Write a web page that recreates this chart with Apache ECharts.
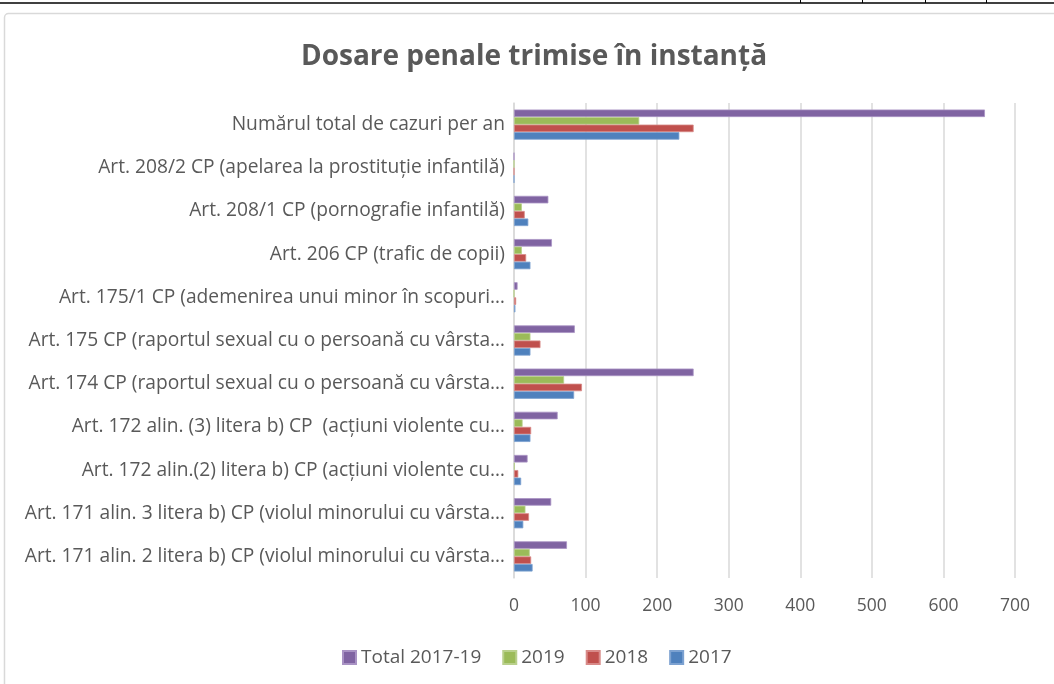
<!DOCTYPE html>
<html><head><meta charset="utf-8">
<script src="https://cdn.jsdelivr.net/npm/echarts@6/dist/echarts.min.js"></script>
<style>html,body{margin:0;padding:0;background:#fff}#c{width:1054px;height:684px}</style>
</head><body><div id="c"></div>
<script>
const categories = [
  "Art. 171 alin. 2 litera b) CP (violul minorului cu vârsta…",
  "Art. 171 alin. 3 litera b) CP (violul minorului cu vârsta…",
  "Art. 172 alin.(2) litera b) CP (acțiuni violente cu…",
  "Art. 172 alin. (3) litera b) CP  (acțiuni violente cu…",
  "Art. 174 CP (raportul sexual cu o persoană cu vârsta…",
  "Art. 175 CP (raportul sexual cu o persoană cu vârsta…",
  "Art. 175/1 CP (ademenirea unui minor în scopuri…",
  "Art. 206 CP (trafic de copii)",
  "Art. 208/1 CP (pornografie infantilă)",
  "Art. 208/2 CP (apelarea la prostituție infantilă)",
  "Numărul total de cazuri per an"
];
const v2017  = [26, 13, 10, 23, 84, 23, 2, 23, 20, 0, 231];
const v2018  = [24, 21, 6, 24, 95, 37, 3, 17, 15, 0, 251];
const v2019  = [22, 16, 1, 12, 70, 23, 0, 11, 11, 0, 175];
const vTotal = [74, 52, 19, 61, 251, 85, 5, 53, 48, 0, 658];
const xTicks = [0, 100, 200, 300, 400, 500, 600, 700];

const chart = echarts.init(document.getElementById('c'));
const txt = '#595959';
const font = 'Open Sans';
function s(name, data, color, border) {
  return {name, type: 'bar', data, barCategoryGap: '30%', barGap: '0%',
    itemStyle: {color, borderColor: border, borderWidth: 0.8}};
}
chart.setOption({
  animation: false,
  title: {text: 'Dosare penale trimise în instanță', left: 529, textAlign: 'center', top: 38,
    textStyle: {fontFamily: font, fontSize: 28, fontWeight: 'bold', color: txt}},
  graphic: [
    {type: 'rect', shape: {x: 4.5, y: 13.5, width: 1080, height: 700, r: 4}, style: {fill: 'none', stroke: '#d9d9d9', lineWidth: 1.5}, silent: true, z: -1},
    {type: 'line', shape: {x1: 0, y1: 3, x2: 1054, y2: 3}, style: {stroke: '#000', lineWidth: 1.5}},
    {type: 'line', shape: {x1: 800.5, y1: 0, x2: 800.5, y2: 3}, style: {stroke: '#000', lineWidth: 1}},
    {type: 'line', shape: {x1: 862.5, y1: 0, x2: 862.5, y2: 3}, style: {stroke: '#000', lineWidth: 1}},
    {type: 'line', shape: {x1: 925.5, y1: 0, x2: 925.5, y2: 3}, style: {stroke: '#000', lineWidth: 1}},
    {type: 'line', shape: {x1: 986.5, y1: 0, x2: 986.5, y2: 3}, style: {stroke: '#000', lineWidth: 1}}
  ],
  legend: {data: ['Total 2017-19', '2019', '2018', '2017'], left: 337, top: 643,
    itemWidth: 13, itemHeight: 13, itemGap: 21, icon: 'rect',
    textStyle: {fontFamily: font, fontSize: 19, color: txt}},
  grid: {left: 514, right: 39, top: 103, bottom: 106},
  xAxis: {type: 'value', min: xTicks[0], max: xTicks[xTicks.length - 1], interval: 100,
    axisLine: {show: false}, axisTick: {show: false},
    splitLine: {lineStyle: {color: '#d9d9d9', width: 1.5}},
    axisLabel: {fontFamily: font, fontSize: 17.5, color: txt, margin: 19}},
  yAxis: {type: 'category', data: categories,
    axisLine: {lineStyle: {color: '#d9d9d9', width: 1.5}}, axisTick: {show: false},
    axisLabel: {fontFamily: font, fontSize: 19.2, color: txt, margin: 9}},
  series: [
    s('Total 2017-19', vTotal, '#8064A2', '#a993c4'),
    s('2019', v2019, '#9BBB59', '#b9d08c'),
    s('2018', v2018, '#C0504D', '#d88a88'),
    s('2017', v2017, '#4F81BD', '#7da2d1')
  ]
});
</script></body></html>
